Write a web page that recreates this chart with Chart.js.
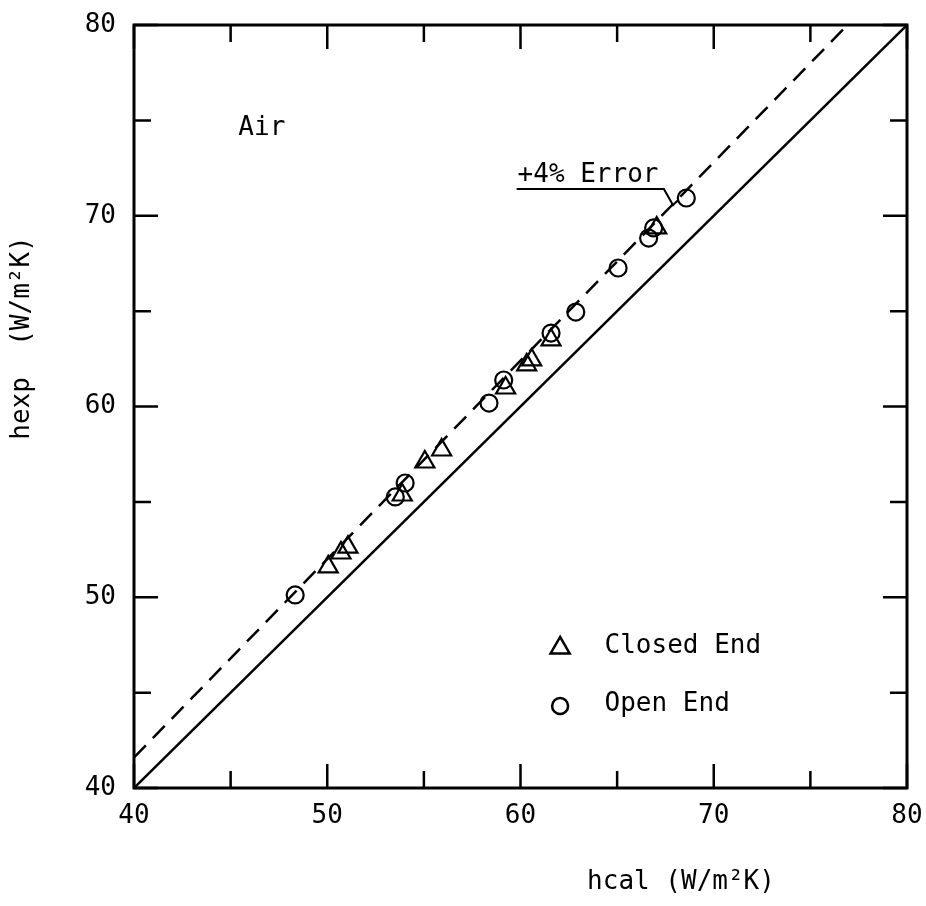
<!DOCTYPE html>
<html>
<head>
<meta charset="utf-8">
<script src="https://cdn.jsdelivr.net/npm/chart.js@4.4.1/dist/chart.umd.min.js"></script>
<style>
  html, body { margin: 0; padding: 0; background: #fff; }
  #wrap { width: 926px; height: 906px; }
</style>
</head>
<body>
<div id="wrap"><canvas id="c" width="926" height="906"></canvas></div>
<script>
// ---- data ----
const closedEndX = [50.05, 50.71, 51.07, 53.88, 55.05, 55.92, 59.23, 60.32, 60.58, 61.58, 67.05];
const closedEndY = [51.59, 52.32, 52.63, 55.36, 57.09, 57.72, 60.97, 62.18, 62.44, 63.49, 69.36];
const openEndX = [48.34, 53.52, 54.03, 58.37, 59.13, 61.58, 62.86, 65.05, 66.63, 66.89, 68.58];
const openEndY = [50.12, 55.26, 55.99, 60.18, 61.39, 63.85, 64.95, 67.26, 68.83, 69.36, 70.93];
const parityLineX = [40, 80];
const parityLineY = [40, 80];
const errorLineX = [40, 76.92];
const errorLineY = [41.6, 80];
const leaderX = [59.8, 67.42, 67.89, 68.16];
const leaderY = [71.4, 71.4, 70.56, 70.83];
const xTickLabels = ['40', '50', '60', '70', '80'];
const yTickLabels = ['40', '50', '60', '70', '80'];
const minorTicks = [40, 45, 50, 55, 60, 65, 70, 75, 80];
const seriesNames = ['Closed End', 'Open End'];
const xTitle = 'hcal (W/m\u00B2K)';
const yTitle = 'hexp  (W/m\u00B2K)';
const gasLabel = 'Air';
const errorLabel = '+4% Error';

const pts = (xs, ys) => xs.map((x, i) => ({ x: x, y: ys[i] }));
const FONT = '"DejaVu Sans Mono", "Liberation Mono", monospace';

const framePlugin = {
  id: 'frame',
  afterDraw(chart) {
    const ctx = chart.ctx;
    const a = chart.chartArea;
    const xs = chart.scales.x, ys = chart.scales.y;
    ctx.save();
    ctx.strokeStyle = '#000';
    ctx.lineWidth = 3;
    ctx.strokeRect(a.left, a.top, a.right - a.left, a.bottom - a.top);
    ctx.lineWidth = 2.5;
    minorTicks.forEach(v => {
      const major = (v % 10 === 0);
      const len = major ? 24 : 17;
      const px = xs.getPixelForValue(v);
      const py = ys.getPixelForValue(v);
      ctx.beginPath();
      ctx.moveTo(px, a.bottom); ctx.lineTo(px, a.bottom - len);
      ctx.moveTo(px, a.top); ctx.lineTo(px, a.top + len);
      ctx.moveTo(a.left, py); ctx.lineTo(a.left + len, py);
      ctx.moveTo(a.right, py); ctx.lineTo(a.right - len, py);
      ctx.stroke();
    });
    // texts
    ctx.fillStyle = '#000';
    ctx.font = '26px ' + FONT;
    ctx.textBaseline = 'middle';
    ctx.textAlign = 'left';
    ctx.fillText(gasLabel, xs.getPixelForValue(45.4), ys.getPixelForValue(74.6));
    ctx.fillText(errorLabel, xs.getPixelForValue(59.85), ys.getPixelForValue(72.1));
    // legend
    const ds = chart.data.datasets;
    const legendY = [47.34, 44.3];
    [0, 1].forEach(i => {
      const d = ds[i];
      const cx = xs.getPixelForValue(62.05);
      const cy = ys.getPixelForValue(legendY[i]);
      ctx.lineWidth = 2.5;
      ctx.strokeStyle = '#000';
      ctx.beginPath();
      if (d.pointStyle === 'triangle') {
        const r = 11;
        ctx.moveTo(cx, cy - r);
        ctx.lineTo(cx + r * Math.sin(2 * Math.PI / 3), cy - r * Math.cos(2 * Math.PI / 3));
        ctx.lineTo(cx + r * Math.sin(4 * Math.PI / 3), cy - r * Math.cos(4 * Math.PI / 3));
        ctx.closePath();
      } else {
        ctx.arc(cx, cy, 8, 0, Math.PI * 2);
      }
      ctx.stroke();
      ctx.fillText(d.label, xs.getPixelForValue(64.35), cy - 2);
    });
    // axis titles
    ctx.font = '26px ' + FONT;
    ctx.textAlign = 'center';
    ctx.fillText(xTitle, 681, 882);
    ctx.save();
    ctx.translate(22, 338);
    ctx.rotate(-Math.PI / 2);
    ctx.fillText(yTitle, 0, 0);
    ctx.restore();
    ctx.restore();
  }
};

new Chart(document.getElementById('c'), {
  type: 'scatter',
  data: {
    datasets: [
      { label: seriesNames[0], data: pts(closedEndX, closedEndY), pointStyle: 'triangle',
        pointRadius: 11, pointBorderWidth: 2.2, borderColor: '#000', backgroundColor: 'rgba(0,0,0,0)', order: 1 },
      { label: seriesNames[1], data: pts(openEndX, openEndY), pointStyle: 'circle',
        pointRadius: 8.5, pointBorderWidth: 2.2, borderColor: '#000', backgroundColor: 'rgba(0,0,0,0)', order: 0 },
      { label: 'parity', type: 'line', data: pts(parityLineX, parityLineY), borderColor: '#000',
        borderWidth: 2.5, pointRadius: 0, fill: false, order: 5 },
      { label: 'error', type: 'line', data: pts(errorLineX, errorLineY), borderColor: '#000',
        borderWidth: 2.5, borderDash: [17, 10], pointRadius: 0, fill: false, order: 5 },
      { label: 'leader', type: 'line', data: pts(leaderX, leaderY), borderColor: '#000',
        borderWidth: 2, pointRadius: 0, fill: false, tension: 0, order: 5 }
    ]
  },
  options: {
    responsive: false,
    animation: false,
    layout: { padding: { top: 25, right: 19, left: 0, bottom: 0 } },
    plugins: { legend: { display: false }, tooltip: { enabled: false } },
    scales: {
      x: {
        type: 'linear', min: 40, max: 80, position: 'bottom',
        grid: { display: false }, border: { display: false },
        ticks: { stepSize: 10, color: '#000', padding: 5, maxRotation: 0,
          font: { family: FONT, size: 26 },
          callback: (v) => xTickLabels[xTickLabels.indexOf(String(v))] ?? '' },
        afterFit: (s) => { s.height = 118; s.paddingLeft = 0; s.paddingRight = 0; }
      },
      y: {
        type: 'linear', min: 40, max: 80,
        grid: { display: false }, border: { display: false },
        ticks: { stepSize: 10, color: '#000', padding: 10,
          font: { family: FONT, size: 26 },
          callback: (v) => yTickLabels[yTickLabels.indexOf(String(v))] ?? '' },
        afterFit: (s) => { s.width = 134; s.paddingTop = 0; s.paddingBottom = 0; }
      }
    }
  },
  plugins: [framePlugin]
});
</script>
</body>
</html>
